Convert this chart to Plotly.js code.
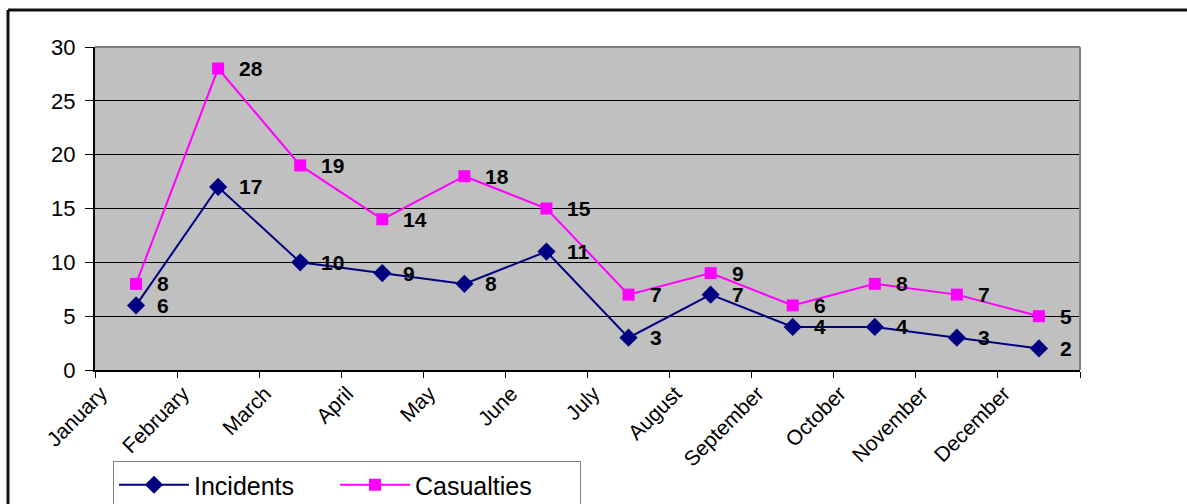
<!DOCTYPE html>
<html>
<head>
<meta charset="utf-8">
<script src="https://cdn.plot.ly/plotly-3.0.1.min.js"></script>
<style>
html,body{margin:0;padding:0;background:#fff;}
#chart{width:1187px;height:504px;}
</style>
</head>
<body>
<div id="chart"></div>
<script>
const months = ["January","February","March","April","May","June","July","August","September","October","November","December"];
const incidents = [6, 17, 10, 9, 8, 11, 3, 7, 4, 4, 3, 2];
const casualties = [8, 28, 19, 14, 18, 15, 7, 9, 6, 8, 7, 5];
const yTicks = [0, 5, 10, 15, 20, 25, 30];

const FONT = "Liberation Sans, Arial, sans-serif";
const W = 1187, H = 504, L = 95, R = 107, T = 47, B = 134;
const pw = W - L - R, ph = H - T - B;
const px2x = p => (p - L) / pw;
const px2y = p => (H - B - p) / ph;

const xs = months.map((m, i) => i);

const traces = [
  {
    name: "Incidents", x: xs, y: incidents, type: "scatter", mode: "lines+markers",
    line: {color: "#000080", width: 2},
    marker: {symbol: "diamond", size: 14, color: "#000080"},
    legendwidth: 136
  },
  {
    name: "Casualties", x: xs, y: casualties, type: "scatter", mode: "lines+markers",
    line: {color: "#FF00FF", width: 2},
    marker: {symbol: "square", size: 12, color: "#FF00FF"},
    legendwidth: 160
  }
];

const annotations = [];
[incidents, casualties].forEach(series => {
  series.forEach((v, i) => {
    annotations.push({
      x: xs[i], y: v, xref: "x", yref: "y", text: String(v),
      showarrow: false, xanchor: "left", yanchor: "middle", xshift: 19,
      font: {family: FONT, size: 21, color: "#000", weight: "bold"}
    });
  });
});

const shapes = [
  {type: "line", xref: "paper", yref: "paper", x0: 0, x1: 1, y0: 1, y1: 1, line: {color: "#808080", width: 2}},
  {type: "line", xref: "paper", yref: "paper", x0: 1, x1: 1, y0: 0, y1: 1, line: {color: "#808080", width: 2}},
  {type: "line", xref: "paper", yref: "paper", x0: px2x(8), x1: px2x(1200), y0: px2y(10), y1: px2y(10), line: {color: "#111", width: 3}},
  {type: "line", xref: "paper", yref: "paper", x0: px2x(8), x1: px2x(8), y0: px2y(10), y1: px2y(520), line: {color: "#111", width: 3}}
];

const layout = {
  width: W, height: H,
  margin: {l: L, r: R, t: T, b: B, autoexpand: false},
  paper_bgcolor: "#ffffff",
  plot_bgcolor: "#C0C0C0",
  font: {family: FONT, color: "#000"},
  showlegend: true,
  legend: {
    orientation: "h", x: px2x(113), y: px2y(461), xanchor: "left", yanchor: "top",
    bgcolor: "#ffffff", bordercolor: "#808080", borderwidth: 1,
    font: {family: FONT, size: 25, color: "#000"},
    itemwidth: 70, entrywidthmode: "pixels", tracegroupgap: 0
  },
  xaxis: {
    type: "linear", range: [-0.5, 11.5],
    tickmode: "array",
    tickvals: months.map((m, i) => i - 0.5).concat([11.5]),
    ticktext: months.concat([""]),
    tickangle: -45, ticklabelshift: 6, ticklabelstandoff: -5,
    ticks: "outside", ticklen: 6, tickcolor: "#000", tickwidth: 1,
    tickfont: {family: FONT, size: 21, color: "#000"},
    showline: true, linecolor: "#000", linewidth: 2,
    showgrid: false, zeroline: false, fixedrange: true
  },
  yaxis: {
    range: [0, 30], tickmode: "array", tickvals: yTicks, ticktext: yTicks.map(String),
    ticks: "outside", ticklen: 8, tickcolor: "#000", tickwidth: 1,
    tickfont: {family: FONT, size: 22, color: "#000"},
    ticklabelstandoff: 5,
    showline: true, linecolor: "#000", linewidth: 2,
    showgrid: true, gridcolor: "#000", gridwidth: 1,
    zeroline: false, fixedrange: true
  },
  annotations: annotations,
  shapes: shapes
};

Plotly.newPlot("chart", traces, layout, {displayModeBar: false, staticPlot: true});
</script>
</body>
</html>
